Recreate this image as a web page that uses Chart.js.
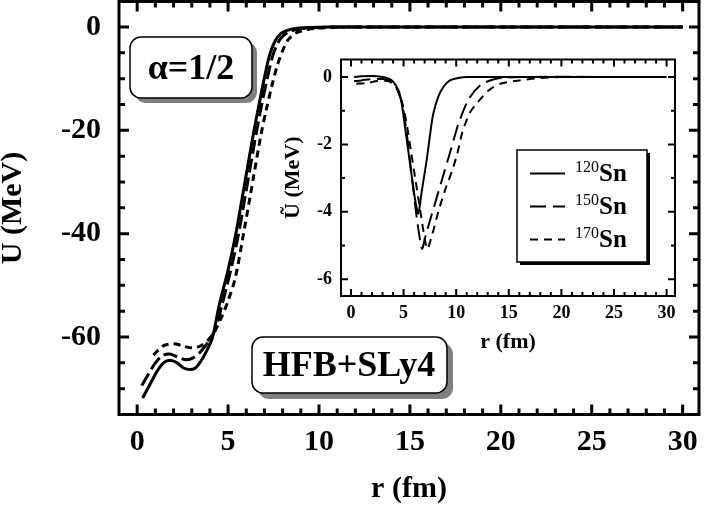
<!DOCTYPE html>
<html>
<head>
<meta charset="utf-8">
<script src="https://cdn.jsdelivr.net/npm/chart.js@4.4.0/dist/chart.umd.min.js"></script>
<style>
  body { margin: 0; background: #fff; }
  #wrap { position: relative; width: 704px; height: 508px; }
  #main { position: absolute; left: 0; top: 0; }
  #inset { position: absolute; left: 270px; top: 50px; }
</style>
</head>
<body>
<div id="wrap">
  <canvas id="main" width="704" height="508"></canvas>
  <canvas id="inset" width="420" height="310"></canvas>
</div>
<script>
// Main panel: U(r) in MeV
const r120 = [0.3, 0.7, 1.1, 1.45, 1.8, 2.2, 2.55, 2.9, 3.2, 3.5, 3.85, 4.15, 4.5, 5.0, 5.4, 5.75, 6.1, 6.4, 6.7, 7.0, 7.3, 7.6, 7.9, 8.2, 8.8, 9.5, 10.5, 30];
const u120 = [-71.8, -69.2, -66.6, -65.0, -64.5, -65.0, -66.0, -66.3, -66.0, -64.7, -62.5, -60.0, -54.0, -47.0, -40.5, -33.6, -26.5, -20.5, -15.0, -9.8, -5.2, -2.6, -1.3, -0.7, -0.25, -0.1, 0, 0];

const r150 = [0.25, 0.6, 1.0, 1.4, 1.8, 2.3, 2.7, 3.1, 3.5, 3.9, 4.3, 4.65, 5.15, 5.55, 5.9, 6.25, 6.55, 6.85, 7.15, 7.45, 7.75, 8.05, 8.4, 9.0, 9.8, 11, 30];
const u150 = [-69.4, -67.3, -65.0, -63.6, -63.3, -64.0, -64.4, -64.0, -62.8, -61.0, -58.5, -54.0, -47.0, -40.5, -33.6, -26.5, -20.5, -15.0, -10.0, -5.6, -3.0, -1.6, -0.85, -0.35, -0.12, 0, 0];

const r170 = [0.9, 1.2, 1.5, 2.0, 2.5, 3.0, 3.5, 3.9, 4.25, 4.6, 5.0, 5.4, 5.9, 6.4, 6.8, 7.1, 7.4, 7.7, 8.0, 8.3, 8.7, 9.3, 10, 11, 12, 30];
const u170 = [-63.5, -62.4, -61.6, -61.3, -61.7, -62.1, -61.7, -60.6, -59.0, -56.5, -53.0, -48.5, -39.0, -29.0, -21.0, -16.0, -11.5, -7.5, -4.6, -2.5, -1.2, -0.5, -0.2, -0.05, 0, 0];

// Inset: U-tilde(r) in MeV
const rt120 = [0.3, 1, 2, 3, 3.6, 4.0, 4.5, 4.8, 5.1, 5.45, 5.8, 6.1, 6.4, 6.7, 7.0, 7.2, 7.5, 7.8, 8.3, 8.8, 9.4, 10.3, 11, 30];
const ut120 = [0.0, 0.02, 0.03, 0.0, -0.05, -0.14, -0.39, -0.75, -1.4, -2.2, -3.0, -3.65, -4.05, -3.45, -2.85, -2.45, -1.75, -1.12, -0.58, -0.29, -0.1, -0.02, 0, 0];

const rt150 = [0.3, 1, 2, 3, 3.6, 4.0, 4.5, 4.9, 5.2, 5.5, 5.8, 6.1, 6.4, 6.75, 7.1, 7.66, 8.6, 9.5, 10.2, 11.2, 12.4, 13.8, 16, 30];
const ut150 = [-0.12, -0.1, -0.06, -0.06, -0.1, -0.2, -0.45, -0.85, -1.45, -2.2, -3.0, -3.8, -4.5, -5.1, -4.7, -4.1, -3.1, -2.15, -1.4, -0.65, -0.22, -0.05, 0, 0];

const rt170 = [0.5, 1.5, 2.5, 3.5, 4.0, 4.5, 4.9, 5.3, 5.7, 6.1, 6.5, 6.9, 7.25, 7.7, 8.3, 9.0, 9.6, 10.1, 10.6, 11.3, 12.1, 13.1, 14.2, 16, 18, 20, 30];
const ut170 = [-0.2, -0.18, -0.12, -0.12, -0.2, -0.4, -0.8, -1.4, -2.2, -3.0, -3.8, -4.6, -5.1, -4.7, -4.0, -3.3, -2.8, -2.28, -1.62, -1.06, -0.73, -0.39, -0.2, -0.1, -0.03, 0, 0];

const isotopes = ['120', '150', '170'];
const mainXTicks = [0, 5, 10, 15, 20, 25, 30];
const mainYTicks = [0, -20, -40, -60];
const insetXTicks = [0, 5, 10, 15, 20, 25, 30];
const insetYTicks = [0, -2, -4, -6];

const serif = "'Liberation Serif', 'Times New Roman', serif";

function pts(xs, ys) {
    return xs.map((x, i) => ({ x: x, y: ys[i] }));
}

function roundBox(ctx, x, y, w, h, r) {
    ctx.beginPath();
    ctx.moveTo(x + r, y);
    ctx.lineTo(x + w - r, y);
    ctx.arcTo(x + w, y, x + w, y + r, r);
    ctx.lineTo(x + w, y + h - r);
    ctx.arcTo(x + w, y + h, x + w - r, y + h, r);
    ctx.lineTo(x + r, y + h);
    ctx.arcTo(x, y + h, x, y + h - r, r);
    ctx.lineTo(x, y + r);
    ctx.arcTo(x, y, x + r, y, r);
    ctx.closePath();
}

// frame plus inward minor/major ticks on all four sides
function frameTicks(o) {
    return {
        id: 'frameTicks',
        afterDatasetsDraw(chart) {
            const { ctx, chartArea: a, scales: { x, y } } = chart;
            ctx.save();
            ctx.strokeStyle = '#000';
            ctx.lineWidth = o.tickWidth;
            ctx.beginPath();
            for (let v = 0; v <= x.max; v += o.xMinor) {
                const px = x.getPixelForValue(v);
                const len = v % o.xMajor === 0 ? o.major : o.minor;
                ctx.moveTo(px, a.bottom); ctx.lineTo(px, a.bottom - len);
                ctx.moveTo(px, a.top); ctx.lineTo(px, a.top + len);
            }
            for (let v = 0; v > y.min; v -= o.yMinor) {
                const py = y.getPixelForValue(v);
                const len = v % o.yMajor === 0 ? o.major : o.minor;
                ctx.moveTo(a.left, py); ctx.lineTo(a.left + len, py);
                ctx.moveTo(a.right, py); ctx.lineTo(a.right - len, py);
            }
            ctx.stroke();
            ctx.lineWidth = o.frame;
            ctx.strokeRect(a.left, a.top, a.right - a.left, a.bottom - a.top);
            ctx.restore();
        }
    };
}

const mainLabels = {
    id: 'mainLabels',
    afterDraw(chart) {
        const ctx = chart.ctx;
        const boxes = [
            { x: 130, y: 37, w: 122, h: 61, sh: 5, text: '\u03b1=1/2', tx: 191, ty: 79 },
            { x: 252, y: 337, w: 195, h: 56, sh: 6, text: 'HFB+SLy4', tx: 349, ty: 376 }
        ];
        ctx.save();
        boxes.forEach(b => {
            ctx.fillStyle = '#808080';
            roundBox(ctx, b.x + b.sh, b.y + b.sh, b.w, b.h, 11);
            ctx.fill();
            ctx.fillStyle = '#fff';
            ctx.strokeStyle = '#000';
            ctx.lineWidth = 1.5;
            roundBox(ctx, b.x, b.y, b.w, b.h, 11);
            ctx.fill();
            ctx.stroke();
            ctx.fillStyle = '#000';
            ctx.font = 'bold 36px ' + serif;
            ctx.textAlign = 'center';
            ctx.textBaseline = 'alphabetic';
            ctx.fillText(b.text, b.tx, b.ty);
        });
        ctx.restore();
    }
};

const insetLegend = {
    id: 'insetLegend',
    afterDraw(chart) {
        const ctx = chart.ctx;
        const bx = 247, by = 100, bw = 130, bh = 112;
        ctx.save();
        ctx.fillStyle = '#000';
        ctx.fillRect(bx + 3, by + 3, bw, bh);
        ctx.fillStyle = '#fff';
        ctx.fillRect(bx, by, bw, bh);
        ctx.strokeStyle = '#000';
        ctx.lineWidth = 1.5;
        ctx.strokeRect(bx, by, bw, bh);
        ctx.fillStyle = '#000';
        chart.data.datasets.forEach((ds, i) => {
            const ly = 123.5 + i * 33;
            ctx.setLineDash(ds.borderDash || []);
            ctx.lineWidth = 2;
            ctx.beginPath();
            ctx.moveTo(260, ly);
            ctx.lineTo(295, ly);
            ctx.stroke();
            ctx.setLineDash([]);
            ctx.textAlign = 'left';
            ctx.textBaseline = 'alphabetic';
            ctx.font = '16px ' + serif;
            ctx.fillText(isotopes[i], 305, ly - 1.5);
            const w = ctx.measureText(isotopes[i]).width;
            ctx.font = 'bold 25px ' + serif;
            ctx.fillText('Sn', 305 + w, ly + 7.5);
        });
        ctx.restore();
    }
};

function axisFont(size) {
    return { family: serif, size: size, weight: 'bold', lineHeight: 1 };
}

// drop the extra room Chart.js keeps for the end tick labels
function fitX(h) {
    return s => { s.height = h; s.paddingLeft = 0; s.paddingRight = 0; };
}
function fitY(w) {
    return s => { s.width = w; s.paddingTop = 0; s.paddingBottom = 0; };
}

// main chart
new Chart(document.getElementById('main'), {
    type: 'scatter',
    data: {
        datasets: [
            { label: '120Sn', data: pts(r120, u120), borderDash: [] },
            { label: '150Sn', data: pts(r150, u150), borderDash: [14, 5] },
            { label: '170Sn', data: pts(r170, u170), borderDash: [7, 5] }
        ]
    },
    options: {
        responsive: false,
        animation: false,
        showLine: true,
        layout: { padding: { top: 1.5, right: 5, left: 0, bottom: 0 } },
        elements: {
            point: { radius: 0 },
            line: { borderWidth: 3, borderColor: '#000', tension: 0.3, fill: false }
        },
        plugins: { legend: { display: false }, tooltip: { enabled: false } },
        scales: {
            x: {
                type: 'linear', min: -1, max: 30.9,
                afterBuildTicks: s => { s.ticks = mainXTicks.map(v => ({ value: v })); },
                afterFit: fitX(93.5),
                grid: { display: false, drawTicks: false },
                border: { display: false },
                ticks: { color: '#000', font: axisFont(30), padding: 13, maxRotation: 0, autoSkip: false, callback: v => String(v) },
                title: { display: true, text: 'r (fm)', color: '#000', font: axisFont(30), padding: { top: 0, bottom: 4 } }
            },
            y: {
                type: 'linear', min: -75, max: 4.94,
                afterBuildTicks: s => { s.ticks = mainYTicks.map(v => ({ value: v })); },
                afterFit: fitY(119),
                grid: { display: false, drawTicks: false },
                border: { display: false },
                ticks: { color: '#000', font: axisFont(30), padding: 18, autoSkip: false, callback: v => String(v) },
                title: { display: true, text: 'U (MeV)', color: '#000', font: axisFont(30), padding: { top: -2, bottom: 0 } }
            }
        }
    },
    plugins: [frameTicks({ xMinor: 1, xMajor: 5, yMinor: 5, yMajor: 20, major: 10, minor: 6, tickWidth: 3, frame: 3 }), mainLabels]
});

// inset chart
new Chart(document.getElementById('inset'), {
    type: 'scatter',
    data: {
        datasets: [
            { label: '120Sn', data: pts(rt120, ut120), borderDash: [] },
            { label: '150Sn', data: pts(rt150, ut150), borderDash: [16, 7] },
            { label: '170Sn', data: pts(rt170, ut170), borderDash: [8, 6] }
        ]
    },
    options: {
        responsive: false,
        animation: false,
        showLine: true,
        layout: { padding: { top: 9.5, right: 15, left: 0, bottom: 0 } },
        elements: {
            point: { radius: 0 },
            line: { borderWidth: 2, borderColor: '#000', tension: 0.25, fill: false }
        },
        plugins: { legend: { display: false }, tooltip: { enabled: false } },
        scales: {
            x: {
                type: 'linear', min: -0.95, max: 30.8,
                afterBuildTicks: s => { s.ticks = insetXTicks.map(v => ({ value: v })); },
                afterFit: fitX(64),
                grid: { display: false, drawTicks: false },
                border: { display: false },
                ticks: { color: '#000', font: axisFont(18), padding: 8, maxRotation: 0, autoSkip: false, callback: v => String(v) },
                title: { display: true, text: 'r (fm)', color: '#000', font: axisFont(22), padding: { top: 0, bottom: 7 } }
            },
            y: {
                type: 'linear', min: -6.5, max: 0.52,
                afterBuildTicks: s => { s.ticks = insetYTicks.map(v => ({ value: v })); },
                afterFit: fitY(71),
                grid: { display: false, drawTicks: false },
                border: { display: false },
                ticks: { color: '#000', font: axisFont(18), padding: 9, autoSkip: false, callback: v => String(v) },
                title: { display: true, text: '\u0168 (MeV)', color: '#000', font: axisFont(22), padding: { top: 12.5, bottom: 0 } }
            }
        }
    },
    plugins: [frameTicks({ xMinor: 1, xMajor: 5, yMinor: 1, yMajor: 2, major: 7, minor: 4, tickWidth: 2, frame: 2 }), insetLegend]
});
</script>
</body>
</html>
